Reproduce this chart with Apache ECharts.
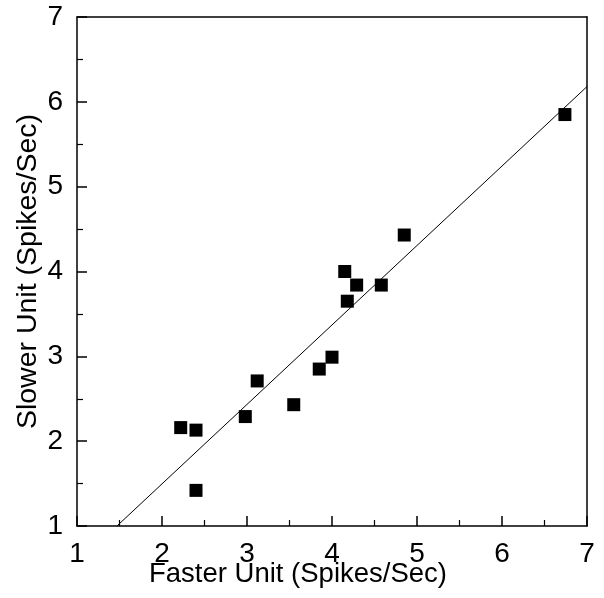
<!DOCTYPE html>
<html>
<head>
<meta charset="utf-8">
<script src="https://cdn.jsdelivr.net/npm/echarts@6/dist/echarts.min.js"></script>
<style>
  html, body { margin: 0; padding: 0; background: #fff; }
  #chart { width: 604px; height: 598px; }
</style>
</head>
<body>
<div id="chart"></div>
<script>
// firing rates of unit pairs
var fasterRate = [2.22, 2.40, 2.40, 2.98, 3.12, 3.55, 3.85, 4.00, 4.15, 4.29, 4.18, 4.58, 4.85, 6.74];
var slowerRate = [2.16, 2.13, 1.42, 2.29, 2.71, 2.43, 2.85, 2.99, 4.00, 3.84, 3.65, 3.84, 4.43, 5.85];

// regression line end points
var fitX = [1.47, 7];
var fitY = [1, 6.18];

var tickLabels = ['1', '2', '3', '4', '5', '6', '7'];

var points = fasterRate.map(function (x, i) { return [x, slowerRate[i]]; });
var fitLine = fitX.map(function (x, i) { return [x, fitY[i]]; });

var font = 'Liberation Sans, Arial, Helvetica, sans-serif';

function axisCommon() {
  return {
    type: 'value',
    min: 1,
    max: 7,
    interval: 1,
    nameLocation: 'middle',
    nameMoveOverlap: false,
    axisLine: { show: true, onZero: false, lineStyle: { color: '#000', width: 1.5 } },
    axisTick: { show: true, inside: true, length: 10, lineStyle: { color: '#000', width: 1.5 } },
    minorTick: { show: true, splitNumber: 2, length: 6, lineStyle: { color: '#000', width: 1.2 } },
    splitLine: { show: false },
    axisLabel: {
      color: '#000',
      fontFamily: font,
      fontSize: 28,
      margin: 14,
      formatter: function (v) { return tickLabels[Math.round(v) - 1]; }
    },
    nameTextStyle: { color: '#000', fontFamily: font }
  };
}

// plain frame lines on top and right
function frameAxis(pos) {
  return {
    type: 'value', min: 1, max: 7, interval: 1, position: pos,
    axisLine: { show: true, onZero: false, lineStyle: { color: '#000', width: 1.5 } },
    axisTick: { show: false }, axisLabel: { show: false }, splitLine: { show: false }
  };
}

var xAxis = axisCommon();
xAxis.position = 'bottom';
xAxis.name = 'Faster Unit (Spikes/Sec)';
xAxis.nameGap = 34;
xAxis.nameTextStyle.fontSize = 27.5;
xAxis.nameTextStyle.padding = [0, 68, 0, 0];

var yAxis = axisCommon();
yAxis.position = 'left';
yAxis.name = 'Slower Unit (Spikes/Sec)';
yAxis.nameGap = 34;
yAxis.nameTextStyle.fontSize = 28.5;

var option = {
  animation: false,
  backgroundColor: '#fff',
  grid: { left: 77, right: 17, top: 17, bottom: 72, outerBoundsMode: 'none', containLabel: false },
  xAxis: [xAxis, frameAxis('top')],
  yAxis: [yAxis, frameAxis('right')],
  series: [
    {
      type: 'line',
      data: fitLine,
      symbol: 'none',
      lineStyle: { color: '#000', width: 1 },
      z: 1
    },
    {
      type: 'scatter',
      data: points,
      symbol: 'rect',
      symbolSize: 13,
      itemStyle: { color: '#000', opacity: 1 },
      z: 2
    }
  ]
};

var myChart = echarts.init(document.getElementById('chart'));
myChart.setOption(option);
</script>
</body>
</html>
